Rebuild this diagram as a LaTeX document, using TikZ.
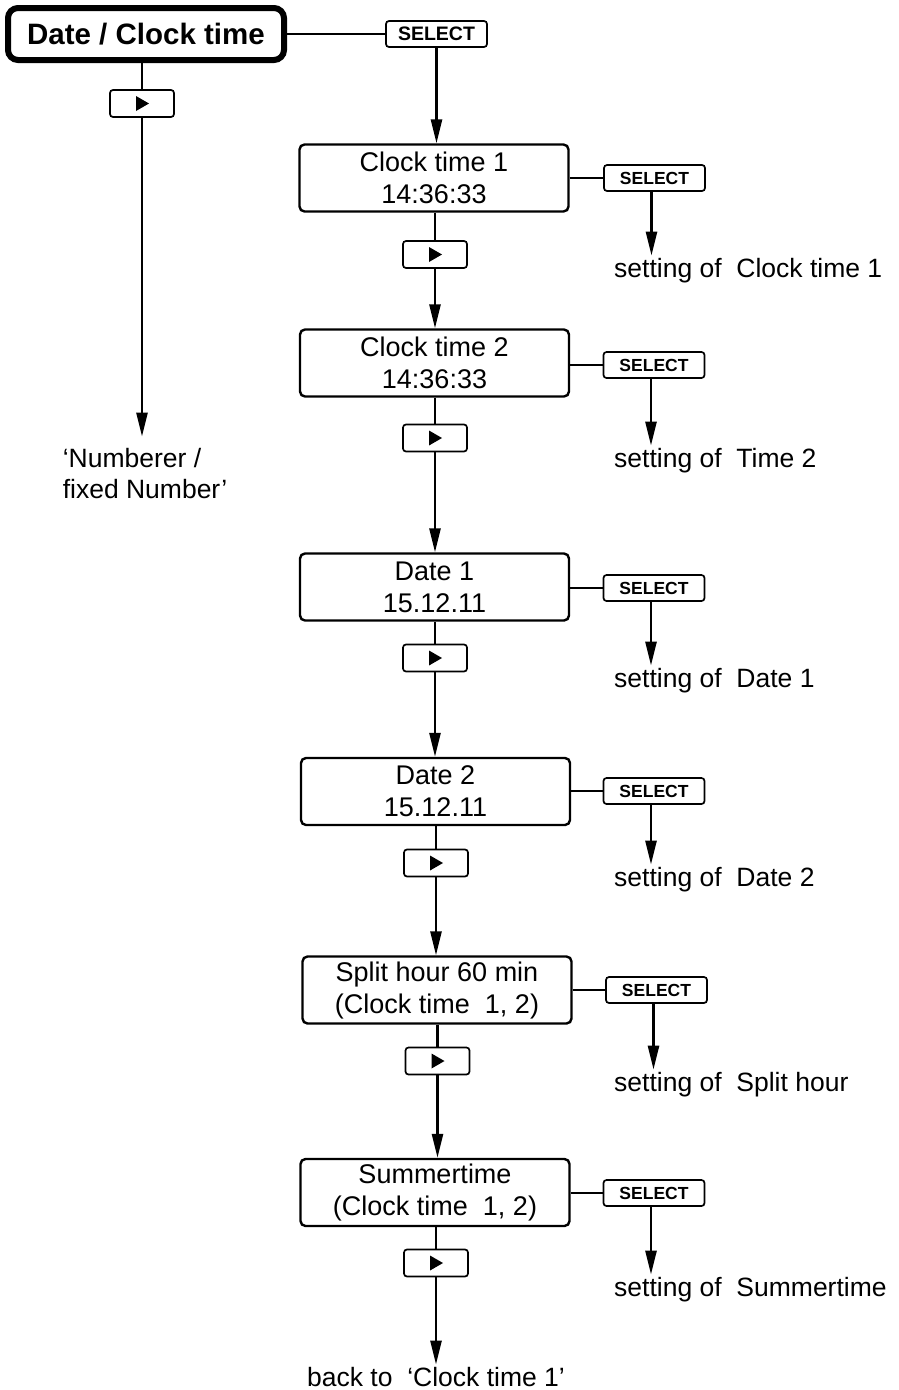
\documentclass[tikz,border=0pt]{standalone}
\usepackage{fontspec}
\setmainfont{Liberation Sans}
\usepackage{tikz}
\usetikzlibrary{arrows.meta}

\tikzset{
  menubox/.style={draw, line width=2.4pt, rounded corners=5pt, minimum width=269pt,
    minimum height=67pt, align=center, inner sep=0pt, font=\fontsize{27}{32}\selectfont},
  titlebox/.style={draw, line width=6pt, rounded corners=10pt, minimum width=276pt,
    minimum height=52pt, font=\fontsize{29.5}{34}\selectfont\bfseries},
  selbtn/.style={draw, line width=1.7pt, rounded corners=3pt, minimum width=101pt,
    minimum height=26pt, inner sep=0pt, font=\fontsize{17.5}{20}\selectfont\bfseries},
  playbtn/.style={draw, line width=1.7pt, rounded corners=3pt, minimum width=64pt,
    minimum height=27pt, inner sep=0pt,
    path picture={\fill[black, sharp corners] ([shift={(-6pt,-7.5pt)}]path picture bounding box.center)
      -- ++(0pt,15pt) -- ++(13pt,-7.5pt) -- cycle;}},
  settext/.style={anchor=base west, inner sep=2pt, font=\fontsize{26.5}{32}\selectfont},
  link/.style={line width=2.7pt},
  flow/.style={line width=2.7pt, -{Triangle[length=24pt,width=11pt]}}
}

\begin{document}
\begin{tikzpicture}[x=1pt, y=-1pt]
    \useasboundingbox (0,0) rectangle (899,1390);

    % Title and first select
    \node[titlebox] (title) at (146,34) {Date / Clock time};
    \node[selbtn, font=\fontsize{19.5}{22}\selectfont\bfseries] (sel0) at (436.5,34) {SELECT};
    \draw[link] (title.east) -- (sel0.west);

    % Left branch
    \node[playbtn] (play0) at (142,103.5) {};
    \node[anchor=base, align=left, inner sep=2pt, font=\fontsize{26.5}{31}\selectfont]
        (numb) at (145,498) {‘Numberer /\\fixed Number’};
    \draw[link] (play0.north |- title.south) -- (play0.north);
    \draw[flow] (play0.south) -- ([yshift=9pt]play0.south |- numb.north);

    % Menu boxes
    \node[menubox] (ct1) at (434,178) {Clock time 1\\14:36:33};
    \node[menubox] (ct2) at (434.5,363) {Clock time 2\\14:36:33};
    \node[menubox] (dt1) at (434.5,587) {Date 1\\15.12.11};
    \node[menubox] (dt2) at (435.5,791.5) {Date 2\\15.12.11};
    \node[menubox] (split) at (437,990) {Split hour 60 min\\(Clock time~~1, 2)};
    \node[menubox] (summer) at (435,1192.5) {Summertime\\(Clock time~~1, 2)};

    % Play buttons
    \node[playbtn] (play1) at (435,254.5) {};
    \node[playbtn] (play2) at (435,438) {};
    \node[playbtn] (play3) at (435,658) {};
    \node[playbtn] (play4) at (436,863) {};
    \node[playbtn] (play5) at (437.5,1061) {};
    \node[playbtn] (play6) at (436,1263) {};

    % Select buttons
    \node[selbtn] (sel1) at (654.5,178) {SELECT};
    \node[selbtn] (sel2) at (654,365) {SELECT};
    \node[selbtn] (sel3) at (654,588) {SELECT};
    \node[selbtn] (sel4) at (654,791) {SELECT};
    \node[selbtn] (sel5) at (656.5,990) {SELECT};
    \node[selbtn] (sel6) at (654,1193) {SELECT};

    % Setting labels
    \node[settext] (set1) at (612,277) {setting of~~Clock time 1};
    \node[settext] (set2) at (612,467) {setting of~~Time 2};
    \node[settext] (set3) at (612,687) {setting of~~Date 1};
    \node[settext] (set4) at (612,886) {setting of~~Date 2};
    \node[settext] (set5) at (612,1091) {setting of~~Split hour};
    \node[settext] (set6) at (612,1296) {setting of~~Summertime};
    \node[anchor=base, inner sep=2pt, font=\fontsize{26.5}{32}\selectfont]
        (back) at (436,1386) {back to~~‘Clock time 1’};

    % Main column
    \draw[flow] (sel0.south) -- (sel0.south |- ct1.north);
    \draw[link] (ct1.south -| play1) -- (play1.north);
    \draw[flow] (play1.south) -- (play1.south |- ct2.north);
    \draw[link] (ct2.south -| play2) -- (play2.north);
    \draw[flow] (play2.south) -- (play2.south |- dt1.north);
    \draw[link] (dt1.south -| play3) -- (play3.north);
    \draw[flow] (play3.south) -- (play3.south |- dt2.north);
    \draw[link] (dt2.south -| play4) -- (play4.north);
    \draw[flow] (play4.south) -- (play4.south |- split.north);
    \draw[link] (split.south -| play5) -- (play5.north);
    \draw[flow] (play5.south) -- (play5.south |- summer.north);
    \draw[link] (summer.south -| play6) -- (play6.north);
    \draw[flow] (play6.south) -- (play6.south |- back.north);

    % Side branches
    \draw[link] (sel1.west -| ct1.east) -- (sel1.west);
    \draw[link] (sel2.west -| ct2.east) -- (sel2.west);
    \draw[link] (sel3.west -| dt1.east) -- (sel3.west);
    \draw[link] (sel4.west -| dt2.east) -- (sel4.west);
    \draw[link] (sel5.west -| split.east) -- (sel5.west);
    \draw[link] (sel6.west -| summer.east) -- (sel6.west);
    \draw[flow] ([xshift=-3pt]sel1.south) -- ([xshift=-3pt]sel1.south |- set1.north);
    \draw[flow] ([xshift=-3pt]sel2.south) -- ([xshift=-3pt]sel2.south |- set2.north);
    \draw[flow] ([xshift=-3pt]sel3.south) -- ([xshift=-3pt]sel3.south |- set3.north);
    \draw[flow] ([xshift=-3pt]sel4.south) -- ([xshift=-3pt]sel4.south |- set4.north);
    \draw[flow] ([xshift=-3pt]sel5.south) -- ([xshift=-3pt]sel5.south |- set5.north);
    \draw[flow] ([xshift=-3pt]sel6.south) -- ([xshift=-3pt]sel6.south |- set6.north);
\end{tikzpicture}
\end{document}
